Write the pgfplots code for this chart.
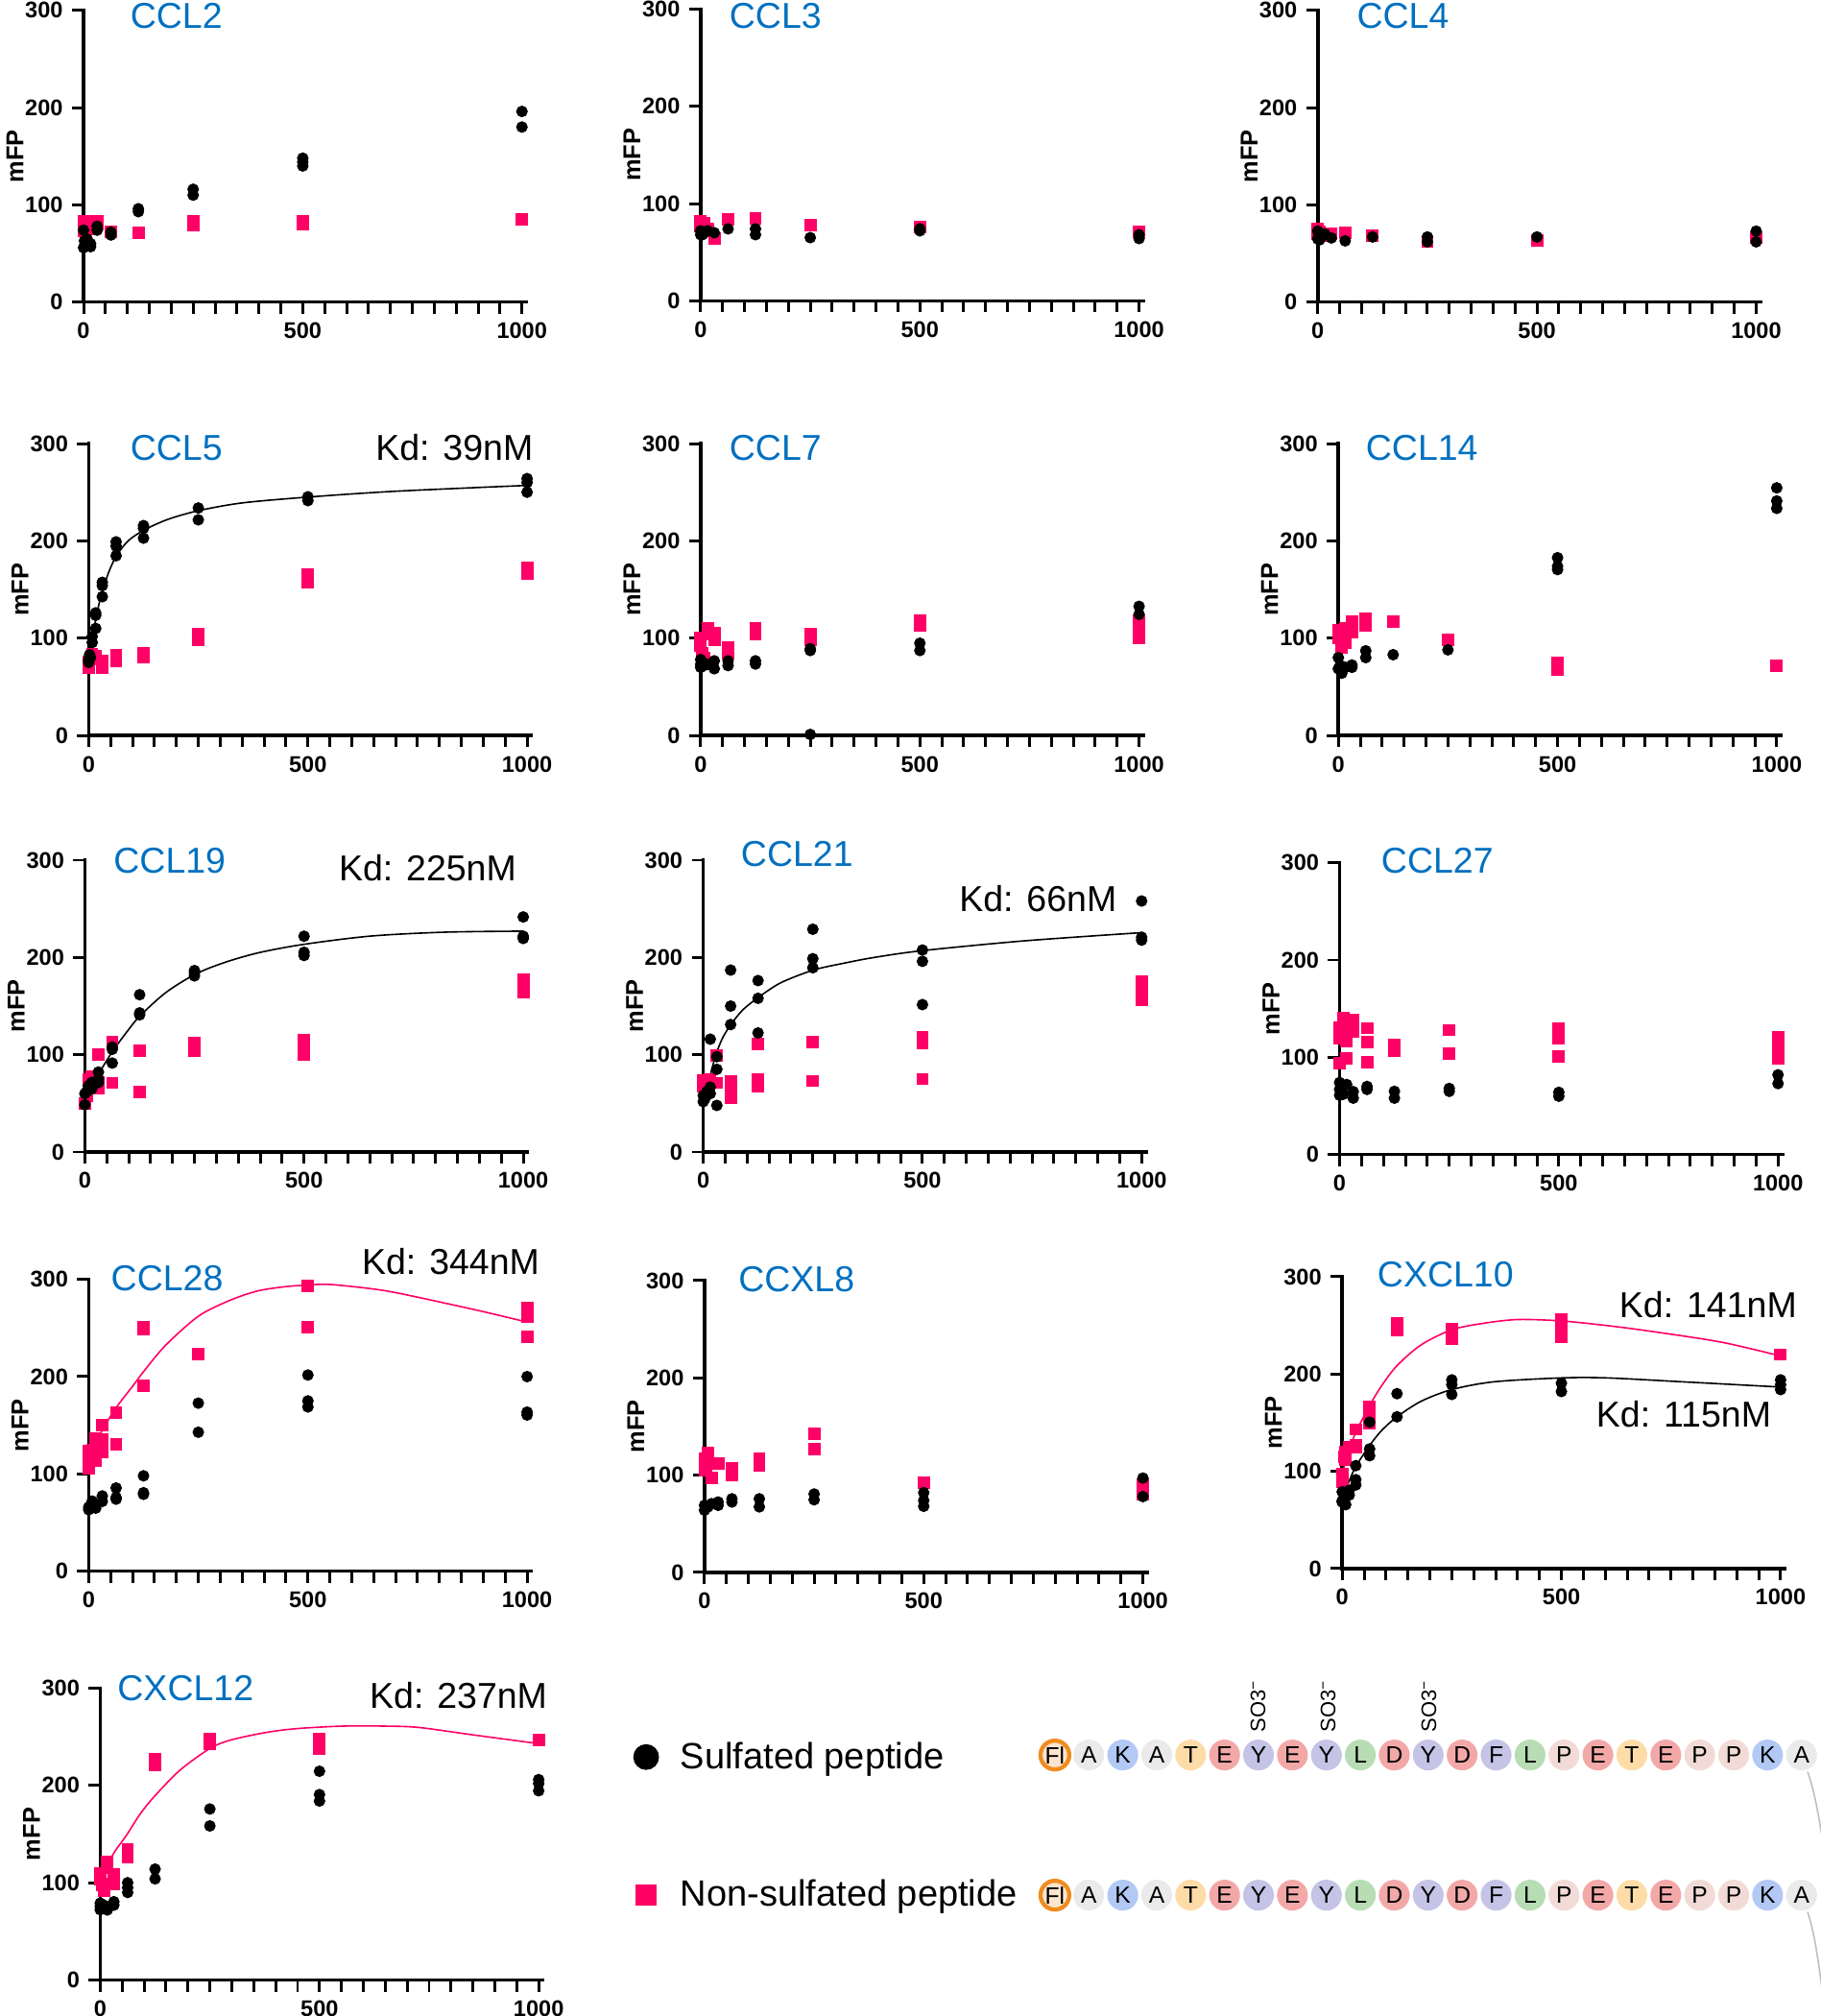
\documentclass[border=0pt]{standalone}
\usepackage{fontspec}
\setmainfont{Liberation Sans}
\usepackage{graphicx}
\usepackage{pgfplots}
\pgfplotsset{compat=1.18}
\definecolor{pinkc}{RGB}{255,0,102}
\definecolor{titleblue}{RGB}{0,112,192}
\definecolor{cA}{RGB}{234,234,234}
\definecolor{cK}{RGB}{178,200,245}
\definecolor{cT}{RGB}{253,220,168}
\definecolor{cE}{RGB}{243,168,168}
\definecolor{cY}{RGB}{197,195,230}
\definecolor{cL}{RGB}{184,221,181}
\definecolor{cP}{RGB}{242,219,214}
\definecolor{flfill}{RGB}{252,228,206}
\definecolor{flring}{RGB}{240,140,30}

\pgfplotsset{
  panel/.style={
    scale only axis, width=172.2pt, height=113.5pt, anchor=south west,
    xmin=0, xmax=1010, ymin=0, ymax=300,
    axis lines=left, axis line style={line width=1.3pt, -, line cap=rect},
    xtick={0,500,1000}, minor xtick={50,100,...,950},
    ytick={0,100,200,300},
    tick align=outside, major tick length=4.5pt, minor tick length=4.5pt,
    tick style={line width=1.1pt, black},
    tick label style={font=\bfseries\fontsize{8.8}{10}\selectfont},
    /pgf/number format/assume math mode=true,
    /pgf/number format/1000 sep={},
    ylabel={mFP},
    every axis y label/.style={at={(axis description cs:-0.155,0.5)}, rotate=90, anchor=center, font=\bfseries\fontsize{9.5}{11}\selectfont},
    clip=false,
  },
  sulf/.style={only marks, mark=*, mark size=2.05pt, black, mark options={draw=black, fill=black}},
  nons/.style={only marks, mark=square*, mark size=2.2pt, pinkc, mark options={draw=pinkc, fill=pinkc}},
  fitk/.style={no marks, smooth, black, line width=0.6pt},
  fitp/.style={no marks, smooth, pinkc, line width=0.6pt},
}

\begin{document}
\begin{tikzpicture}
\useasboundingbox (0,0) rectangle (708pt,-784pt);

% ---------- Row 1 ----------
\begin{axis}[panel, at={(32.5pt,-117.5pt)}]
\addplot[nons] coordinates {(0,73)(0,83)(4,80)(8,83)(8,80)(16,75)(31,83)(31,80)(62.5,72)(125,71)(250,83)(250,79)(500,83)(500,80)(1000,85)};
\addplot[sulf] coordinates {(0,74)(0,56)(2,63)(4,60)(8,65)(16,57)(16,60)(31,78)(31,74)(62.5,72)(62.5,69)(125,96)(125,93)(250,116)(250,110)(500,148)(500,144)(500,140)(1000,196)(1000,180)};
\end{axis}

\begin{axis}[panel, at={(272.5pt,-117pt)}]
\addplot[nons] coordinates {(0,82)(0,77)(4,75)(8,80)(16,74)(31,64)(62.5,84)(125,85)(250,78)(500,76)(1000,71)};
\addplot[sulf] coordinates {(0,72)(0,68)(2,70)(4,68)(8,70)(16,72)(31,70)(62.5,74)(125,74)(125,68)(250,65)(500,74)(500,72)(1000,68)(1000,64)};
\end{axis}

\begin{axis}[panel, at={(512.5pt,-117.5pt)}]
\addplot[nons] coordinates {(0,75)(0,70)(4,72)(8,68)(16,70)(31,70)(62.5,71)(125,68)(250,62)(500,63)(1000,66)};
\addplot[sulf] coordinates {(0,73)(0,65)(2,68)(4,64)(8,67)(16,70)(31,66)(62.5,63)(125,67)(250,67)(250,62)(500,67)(1000,73)(1000,62)};
\end{axis}

% ---------- Row 2 ----------
\begin{axis}[panel, at={(34.5pt,-286pt)}]
\addplot[nons] coordinates {(0,76)(0,70)(4,80)(8,84)(8,80)(16,82)(16,78)(31,77)(31,70)(62.5,83)(62.5,76)(125,85)(125,80)(250,104)(250,98)(500,165)(500,157)(1000,172)(1000,166)};
\addplot[sulf] coordinates {(0,78)(0,75)(0,77)(2,83)(4,80)(8,101.7)(8,95.5)(16,126)(16,123.5)(16,110)(31,157.4)(31,154)(31,142.6)(62.5,199)(62.5,194.6)(62.5,184.7)(125,215.7)(125,213)(125,202.8)(250,233.8)(250,221.6)(500,245.3)(500,241.4)(1000,264)(1000,260)(1000,250)};
\addplot[fitk] coordinates {(0,78)(4,88)(8,100)(16,119)(24,136)(32,149)(45,167)(62.5,184)(90,200)(126,211)(180,222)(250,231)(350,239)(500,245)(700,251)(1000,257)};
\end{axis}

\begin{axis}[panel, at={(272.5pt,-286pt)}]
\addplot[nons] coordinates {(0,100)(0,92)(4,85)(8,80)(16,110)(16,104)(31,105)(31,98)(62.5,90)(62.5,84)(125,110)(125,104)(250,104)(250,98)(500,118)(500,113)(1000,118)(1000,108)(1000,100)};
\addplot[sulf] coordinates {(0,78)(0,73)(0,70)(4,75)(8,72)(16,73)(31,76.7)(31,68.5)(62.5,76.7)(62.5,71.8)(125,76.7)(125,73.4)(250,89.2)(250,87.3)(250,1)(500,94.8)(500,87.3)(1000,132.7)(1000,124.5)};
\end{axis}

\begin{axis}[panel, at={(520.5pt,-286pt)}]
\addplot[nons] coordinates {(0,108)(0,100)(4,104)(8,100)(8,90)(16,110)(16,100)(16,95)(31,117)(31,110)(31,106)(62.5,120)(62.5,113)(125,117)(250,98)(500,75)(500,68)(1000,72)};
\addplot[sulf] coordinates {(0,80)(0,68.5)(4,72)(8,64)(16,70)(31,72.4)(31,70)(62.5,87)(62.5,80)(125,83)(250,88)(500,182.7)(500,173.8)(500,170.5)(1000,254.5)(1000,241)(1000,233.4)};
\end{axis}

% ---------- Row 3 ----------
\begin{axis}[panel, at={(33pt,-448pt)}]
\addplot[nons] coordinates {(0,50)(4,58)(8,75)(16,78)(31,100)(31,72)(31,66)(62.5,113)(62.5,71)(125,104)(125,62)(250,112)(250,104)(500,115)(500,108)(500,100)(1000,177)(1000,170)(1000,164)};
\addplot[sulf] coordinates {(0,60)(0,48.5)(4,62)(8,68)(16,71.6)(16,65)(31,82.2)(31,75)(31,71.6)(62.5,108)(62.5,105.6)(62.5,91.4)(125,161.7)(125,143)(125,141)(250,186.5)(250,184)(250,181)(500,221.8)(500,205.3)(500,202)(1000,241.6)(1000,221.8)(1000,219.5)};
\addplot[fitk] coordinates {(0,60)(16,70)(32,81)(62.5,103)(95,123)(126,140)(185,164)(253,183)(320,195)(398,205)(500,213.5)(653,222)(823,226)(1000,227)};
\end{axis}

\begin{axis}[panel, at={(273.5pt,-448pt)}]
\addplot[nons] coordinates {(0,74)(0,68)(4,64)(8,72)(16,75)(31,99)(31,71)(62.5,73)(62.5,68)(62.5,56)(125,111)(125,75)(125,68)(250,113)(250,73)(500,118)(500,112)(500,75)(1000,175)(1000,165)(1000,156)};
\addplot[sulf] coordinates {(0,51.8)(0,58)(4,55)(8,62)(16,116)(16,66.7)(16,60)(31,98)(31,85)(31,47.9)(62.5,187)(62.5,150)(62.5,131)(125,176.2)(125,158)(125,122.4)(250,229)(250,198.7)(250,189.4)(500,207.6)(500,196)(500,151.5)(1000,258)(1000,220.8)(1000,217.8)};
\addplot[fitk] coordinates {(0,55)(11,68)(20,86)(32,104)(45,118)(63,131)(90,146)(126,159)(177,174)(251,187)(320,194)(390,200)(500,207)(731,217)(1000,225.5)};
\end{axis}

\begin{axis}[panel, at={(521pt,-449pt)}]
\addplot[nons] coordinates {(0,131)(0,120)(0,93.6)(4,125)(8,140)(8,133)(16,126.5)(16,116.7)(16,98.6)(31,138)(31,126.5)(62.5,130)(62.5,116)(62.5,95)(125,113)(125,107)(250,128)(250,103.5)(500,130)(500,120)(500,101)(1000,120.6)(1000,110)(1000,98.6)};
\addplot[sulf] coordinates {(0,74)(0,67)(0,61)(4,70)(8,62)(16,72)(31,64.7)(31,58)(62.5,70)(62.5,67)(125,65)(125,58)(250,68)(250,65)(500,64)(500,60)(1000,82)(1000,73)};
\end{axis}

% ---------- Row 4 ----------
\begin{axis}[panel, at={(34.5pt,-611pt)}]
\addplot[nons] coordinates {(0,123.4)(0,111.8)(0,106)(4,118)(8,125)(8,115)(16,136.5)(16,128.3)(16,113.5)(31,150.3)(31,134.9)(31,122.4)(62.5,162.8)(62.5,130)(125,250.7)(125,248.4)(125,190.8)(250,223)(500,293.4)(500,250.7)(1000,271)(1000,261.5)(1000,241)};
\addplot[sulf] coordinates {(0,65.8)(0,63.2)(4,67)(8,72)(8,65.8)(16,64.8)(31,77.3)(31,71.7)(62.5,85.5)(62.5,75.7)(62.5,74)(125,98)(125,80.6)(125,79)(250,172.7)(250,142.8)(500,201.6)(500,175)(500,168.8)(1000,200)(1000,163.5)(1000,160.5)};
\addplot[fitp] coordinates {(0,112)(16,128)(31,145)(62.5,168)(100,190)(125,205)(175,232)(250,262)(320,278)(385,288)(450,292.5)(500,294)(550,294.7)(650,290)(720,284.5)(888,268)(1000,256)};
\end{axis}

\begin{axis}[panel, at={(274pt,-611.5pt)}]
\addplot[nons] coordinates {(0,116.8)(0,105)(4,110)(8,123)(8,116.8)(16,97)(31,111.8)(62.5,107)(62.5,100)(125,116.8)(125,110)(250,142.4)(250,126.6)(500,92)(1000,90)(1000,84)(1000,80)};
\addplot[sulf] coordinates {(0,69)(0,64)(2,66)(4,67.4)(8,67.4)(16,70.7)(31,72.4)(31,69)(62.5,75.7)(62.5,72.4)(125,75.7)(125,67.4)(250,80.6)(250,74.7)(500,82)(500,74)(500,68)(1000,97)(1000,78)};
\end{axis}

\begin{axis}[panel, at={(522pt,-610pt)}]
\addplot[nons] coordinates {(0,97)(0,88.7)(4,115)(8,120)(8,111.7)(16,125)(31,143)(31,126.5)(31,125)(62.5,166)(62.5,159.5)(62.5,149.5)(125,252)(125,245)(250,246.5)(250,236.6)(500,256)(500,251)(500,238)(1000,220)};
\addplot[sulf] coordinates {(0,78.9)(0,69.7)(0,68.4)(4,72)(8,65.7)(16,80.5)(16,75.6)(31,105.8)(31,91.4)(31,86)(62.5,150.5)(62.5,123)(62.5,116)(125,179.8)(125,156)(250,194)(250,189)(250,179)(500,190.6)(500,182)(1000,194)(1000,189)(1000,184)};
\addplot[fitp] coordinates {(0,97)(16,122)(31,140)(62.5,167.6)(90,188)(125,208.6)(180,230)(250,245.5)(320,252)(400,256)(500,254.6)(600,250)(690,244.8)(862,233)(1000,218.5)};
\addplot[fitk] coordinates {(0,72)(16,90)(31,105)(62.5,126.5)(90,142)(125,156)(180,172)(250,184)(346,192)(500,196)(604,196)(776,192)(1000,186.6)};
\end{axis}

% ---------- Row 5 ----------
\begin{axis}[panel, at={(39pt,-770pt)},
  legend style={draw=none, fill=none, inner sep=0pt, outer sep=0pt,
    at={(axis description cs:1.205,0.816)}, anchor=north west,
    row sep=41.8pt, column sep=8.5pt, nodes={inner sep=0pt},
    font=\fontsize{14.2}{17}\selectfont},
  legend cell align=left,
  legend image code/.code={\draw[#1] plot coordinates {(0pt,0pt)};}]
\addlegendimage{only marks, mark=*, mark size=4.8pt, black, mark options={draw=black, fill=black}}
\addlegendentry{Sulfated peptide}
\addlegendimage{only marks, mark=square*, mark size=4pt, pinkc, mark options={draw=pinkc, fill=pinkc}}
\addlegendentry{Non-sulfated peptide}
\addplot[nons, forget plot] coordinates {(0,110)(0,103.5)(4,98)(8,98.6)(8,92)(16,121.6)(16,115)(31,108.4)(31,98.6)(62.5,134.7)(62.5,126.5)(125,226.7)(125,221)(250,248)(250,243)(500,248)(500,238)(1000,246.5)};
\addplot[sulf, forget plot] coordinates {(0,79)(0,75.6)(0,72.3)(4,74)(8,77)(16,72)(31,80.5)(31,77)(62.5,100)(62.5,95)(62.5,90)(125,114)(125,104)(250,175.8)(250,158.4)(500,214.6)(500,190.6)(500,184)(1000,206)(1000,202)(1000,194.5)};
\addplot[fitp, forget plot] coordinates {(0,108)(16,118)(33,132)(60,149)(90,170)(120,187)(180,215)(250,238)(300,247)(380,254.6)(450,258.5)(553,261)(650,261)(727,259.6)(850,252)(1000,243)};
\end{axis}

% ---------- Text ----------
\begin{scope}[x=0.5pt, y=-0.5pt]
\begin{scope}[every node/.style={anchor=base west, text=titleblue, font=\fontsize{14}{16.8}\selectfont, inner sep=0pt}]
\node at (101,22) {CCL2};
\node at (567,22) {CCL3};
\node at (1055,22) {CCL4};
\node at (101,358) {CCL5};
\node at (567,358) {CCL7};
\node at (1062,358) {CCL14};
\node at (88,679) {CCL19};
\node at (576,674) {CCL21};
\node at (1074,679) {CCL27};
\node at (86,1004) {CCL28};
\node at (574,1005) {CCXL8};
\node at (1071,1001) {CXCL10};
\node at (91,1323) {CXCL12};
\end{scope}
\begin{scope}[every node/.style={anchor=base east, font=\fontsize{14}{16.8}\selectfont, inner sep=0pt}]
\node at (415,358) {Kd: 39nM};
\node at (402,685) {Kd: 225nM};
\node at (869,709) {Kd: 66nM};
\node at (420,991) {Kd: 344nM};
\node at (1398,1025) {Kd: 141nM};
\node at (1378,1110) {Kd: 115nM};
\node at (426,1329) {Kd: 237nM};
\end{scope}

% peptide sequences
\foreach \yy in {1365,1474}{
  \filldraw[fill=flfill, draw=flring, line width=1.6pt] (820.5,\yy) circle (5.6pt);
  \node[font=\fontsize{9.2}{10}\selectfont, inner sep=0pt] at (820.5,\yy) {Fl};
  \foreach \lab/\col [count=\i from 1] in {A/cA,K/cK,A/cA,T/cT,E/cE,Y/cY,E/cE,Y/cY,L/cL,D/cE,Y/cY,D/cE,F/cY,L/cL,P/cP,E/cE,T/cT,E/cE,P/cP,P/cP,K/cK,A/cA}{
    \fill[\col] ({820.5+26.4*\i},\yy) circle (6pt);
    \node[font=\fontsize{9.2}{10}\selectfont, inner sep=0pt] at ({820.5+26.4*\i},\yy) {\lab};
  }
}
\draw[black!25, line width=0.6pt] (1406,1378) .. controls (1412,1395) and (1415,1415) .. (1420,1445);
\draw[black!25, line width=0.6pt] (1406,1487) .. controls (1412,1505) and (1415,1530) .. (1420,1568);
\foreach \xx in {978.5,1033,1111.5}{
  \node[rotate=90, font=\fontsize{8.2}{9.6}\selectfont, inner sep=0pt] at (\xx,1327) {SO3\textsuperscript{−}};
}
\end{scope}
\end{tikzpicture}
\end{document}
